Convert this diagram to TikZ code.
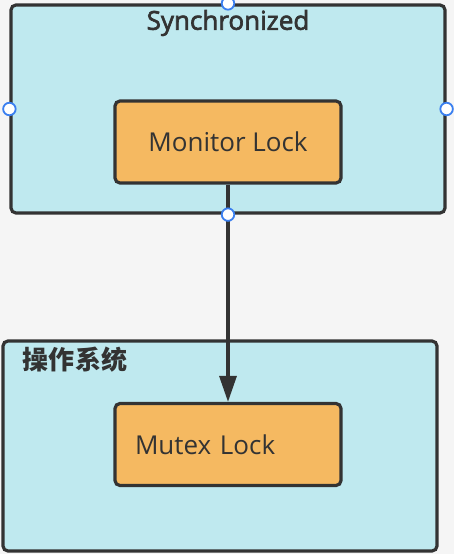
\documentclass[tikz,border=0pt]{standalone}
\usepackage{fontspec}
\setmainfont{Open Sans}
\newfontfamily\medfont[FakeBold=2.5]{Open Sans}
\newfontfamily\cjk{Noto Sans CJK SC}
\usetikzlibrary{arrows.meta,positioning}

\definecolor{bgcol}{HTML}{F5F5F5}
\definecolor{boxfill}{HTML}{BFE9EF}
\definecolor{lockfill}{HTML}{F5B961}
\definecolor{edgecol}{HTML}{333333}
\definecolor{handlecol}{HTML}{3A7FF0}

\begin{document}
\begin{tikzpicture}[x=1pt,y=-1pt,>={Triangle[length=26pt,width=17pt]},
    outer/.style={draw=edgecol,fill=boxfill,line width=3.2pt,rounded corners=5pt,
                  minimum width=434pt,minimum height=208pt},
    lock/.style={draw=edgecol,fill=lockfill,line width=3.2pt,rounded corners=5pt,
                 minimum width=226pt,minimum height=82pt,text=edgecol,
                 font=\fontsize{26}{30}\selectfont},
    title/.style={text=edgecol,inner sep=0pt,font=\medfont\fontsize{26}{30}\selectfont},
    handle/.style={circle,draw=handlecol,fill=white,line width=1.8pt,
                   inner sep=0pt,minimum size=12.5pt}]
  \fill[bgcol] (0,0) rectangle (454,554);
  \useasboundingbox (0,0) rectangle (454,554);

  % upper box
  \node[outer]  (sync)      at (228,109)  {};
  \node[title]  (synctitle) at (228,23)   {Synchronized};
  \node[lock]   (monitor)   at (228,142)  {\raisebox{-2pt}{Monitor Lock}};

  % lower box
  \node[outer, minimum height=210pt] (os) at (220,446) {};
  \node[title, font=\cjk\bfseries\fontsize{26}{30}\selectfont] (ostitle) at (75,360) {操作系统};
  \node[lock, text width=186pt, align=left] (mutex) at (228,444.5) {Mutex Lock};

  \draw[->, line width=3.2pt, draw=edgecol, fill=edgecol] (monitor) -- (mutex);

  % handles
  \foreach \a in {north,west,east,south}
    \node[handle] (h-\a) at (sync.\a) {};
\end{tikzpicture}
\end{document}
